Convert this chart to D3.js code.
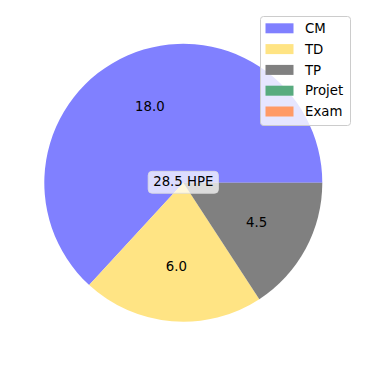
<!DOCTYPE html>
<html><head><meta charset="utf-8">
<script src="https://cdn.jsdelivr.net/npm/d3@7"></script>
<style>body{margin:0;background:#fff}svg{display:block;font-family:"DejaVu Sans",sans-serif}</style>
</head><body>
<script>
const categories = ["CM", "TD", "TP", "Projet", "Exam"];
const hours = [18.0, 6.0, 4.5, 0, 0];
const colors = ["#8080ff", "#ffe484", "#808080", "#58ab7f", "#ff9a66"];
const totalLabel = "28.5 HPE";

const W = 366, H = 366, cx = 183.3, cy = 182.8, R = 139;
const svg = d3.select("body").append("svg").attr("width", W).attr("height", H);
const data = categories.map((c, i) => ({cat: c, v: hours[i], col: colors[i]}));
const pie = d3.pie().value(d => d.v).sort(null).startAngle(Math.PI / 2).endAngle(Math.PI / 2 - 2 * Math.PI);
const arcs = pie(data);
const arc = d3.arc().innerRadius(0).outerRadius(R);
const labelArc = d3.arc().innerRadius(R * 0.6).outerRadius(R * 0.6);
const g = svg.append("g").attr("transform", `translate(${cx},${cy})`);
g.selectAll("path").data(arcs).join("path").attr("d", arc).attr("fill", d => d.data.col);
g.selectAll("text.v").data(arcs.filter(d => d.data.v > 0)).join("text")
  .attr("class", "v")
  .attr("transform", d => `translate(${labelArc.centroid(d)})`)
  .attr("text-anchor", "middle").attr("dy", "0.35em")
  .attr("font-size", 13.3).attr("fill", "#000")
  .text(d => d.data.v.toFixed(1));

// center label
const ct = g.append("text").attr("text-anchor", "middle").attr("dy", "0.35em").attr("y", -1)
  .attr("font-size", 13.3).text(totalLabel);
const bb = ct.node().getBBox();
g.insert("rect", "text:last-of-type")
  .attr("x", bb.x - 5).attr("y", -11.5).attr("width", bb.width + 10).attr("height", 22)
  .attr("rx", 4).attr("fill", "#fff").attr("fill-opacity", 0.72)
  .attr("stroke", "#ddd").attr("stroke-opacity", 0.8);
ct.raise();

// legend
const lg = svg.append("g").attr("transform", "translate(260,16)");
lg.append("rect").attr("x", 0.5).attr("y", 0.5).attr("width", 90).attr("height", 109)
  .attr("rx", 3).attr("fill", "#fff").attr("fill-opacity", 0.8).attr("stroke", "#ccc");
const rows = lg.selectAll("g.r").data(data).join("g").attr("class", "r")
  .attr("transform", (d, i) => `translate(0,${12.3 + i * 20.8})`);
rows.append("rect").attr("x", 5.5).attr("y", -5).attr("width", 28).attr("height", 10).attr("fill", d => d.col);
rows.append("text").attr("x", 45).attr("dy", "0.35em").attr("font-size", 13.3).text(d => d.cat);
</script>
</body></html>
